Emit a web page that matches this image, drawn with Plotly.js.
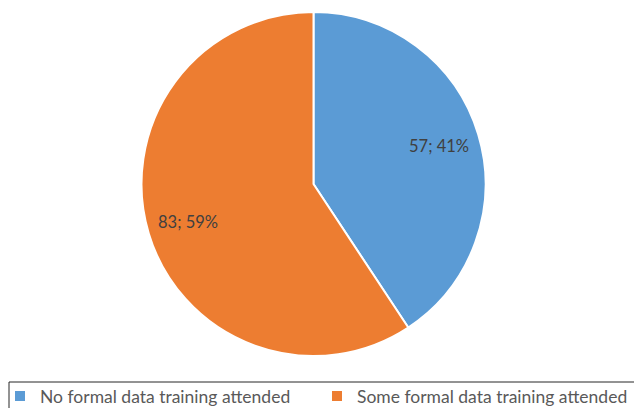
<!DOCTYPE html>
<html>
<head>
<meta charset="utf-8">
<script src="https://cdn.plot.ly/plotly-3.0.1.min.js"></script>
<style>html,body{margin:0;padding:0;background:#fff;overflow:hidden;}#chart{width:800px;height:430px;}</style>
</head>
<body>
<div id="chart"></div>
<script>
const categories = ["No formal data training attended", "Some formal data training attended"];
const counts = [57, 83];
const colors = ["#5B9BD5", "#ED7D31"];

const W = 800, H = 430;
// pie box in pixels
const pieBox = {x0: 141.5, x1: 485.5, y0: 12, y1: 356};
const cx = (pieBox.x0 + pieBox.x1) / 2, cy = (pieBox.y0 + pieBox.y1) / 2;
const R = (pieBox.x1 - pieBox.x0) / 2;

const total = counts.reduce((a, b) => a + b, 0);
const labelsText = counts.map(v => v + "; " + Math.round(v / total * 100) + "%");

// data label positions derived from slice angles (clockwise from 12 o'clock)
const annotations = [];
let cum = 0;
counts.forEach((v, i) => {
  const mid = (cum + v / 2) / total * 2 * Math.PI;
  cum += v;
  const r = 0.76 * R;
  const px = cx + r * Math.sin(mid);
  const py = cy - r * Math.cos(mid);
  annotations.push({
    xref: "paper", yref: "paper",
    x: px / W, y: 1 - py / H,
    xanchor: "center", yanchor: "middle",
    text: labelsText[i], showarrow: false,
    font: {family: "Lato, 'Open Sans', sans-serif", size: 16.5, color: "#404040"}
  });
});

const trace = {
  type: "pie",
  labels: categories,
  values: counts,
  textinfo: "none",
  sort: false,
  direction: "clockwise",
  rotation: 0,
  marker: {colors: colors, line: {color: "#ffffff", width: 2}},
  hoverinfo: "label+value+percent",
  domain: {x: [pieBox.x0 / W, pieBox.x1 / W], y: [1 - pieBox.y1 / H, 1 - pieBox.y0 / H]}
};

const layout = {
  width: W,
  height: H,
  margin: {l: 0, r: 0, t: 0, b: 0},
  paper_bgcolor: "#ffffff",
  showlegend: true,
  legend: {
    orientation: "h",
    x: 0, xanchor: "left",
    y: 1 - 378 / H, yanchor: "top",
    borderwidth: 0,
    bgcolor: "rgba(0,0,0,0)",
    font: {family: "Lato, 'Open Sans', sans-serif", size: 17.5, color: "#595959"},
    itemwidth: 30,
    entrywidth: 272,
    traceorder: "normal"
  },
  shapes: [{
    type: "rect", xref: "paper", yref: "paper",
    x0: 9 / W, x1: 1.05, y0: 1 - 382 / H, y1: -0.2,
    line: {color: "#262626", width: 1}, fillcolor: "rgba(0,0,0,0)", layer: "below"
  }],
  annotations: annotations
};

Plotly.newPlot("chart", [trace], layout, {displayModeBar: false, staticPlot: true});
</script>
</body>
</html>
